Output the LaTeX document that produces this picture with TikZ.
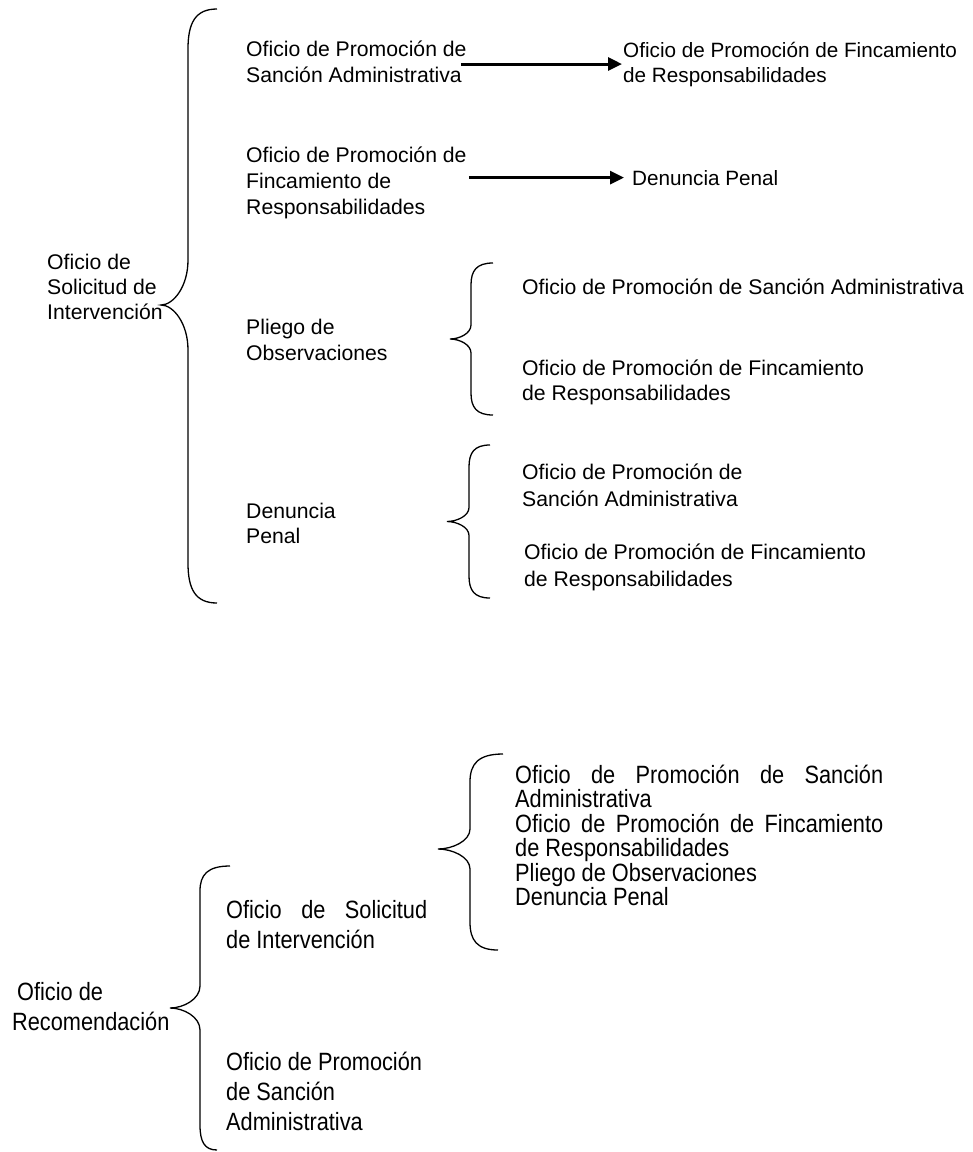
\documentclass[tikz,border=0pt]{standalone}
\usepackage{fontspec}
\setmainfont{Liberation Sans}
\newfontfamily\narrowfont[FakeStretch=0.87]{Liberation Sans}
\usetikzlibrary{arrows.meta}
% brace: #1 x top end, #2 x bottom end, #3 x vertical, #4 x tip, #5 y top, #6 y tip, #7 y bottom, #8 end radius, #9 tip radius
\newcommand\drawbrace[9]{%
  \draw[brc] (#1,#5) .. controls ({#3+0.25*(#1-#3)},#5) and (#3,{#5+0.35*#8}) .. (#3,{#5+#8})
    -- (#3,{#6-#9}) .. controls (#3,{#6-0.4*#9}) and ({#4+0.45*(#3-#4)},#6) .. (#4,#6)
    .. controls ({#4+0.45*(#3-#4)},#6) and (#3,{#6+0.4*#9}) .. (#3,{#6+#9})
    -- (#3,{#7-#8}) .. controls (#3,{#7-0.35*#8}) and ({#3+0.25*(#2-#3)},#7) .. (#2,#7);}
\begin{document}
\lineskiplimit=-100pt
\begin{tikzpicture}[x=1pt,y=-1pt,
  txt/.style={anchor=base west, inner sep=0pt, align=left},
  brc/.style={line width=1.3pt},
  arr/.style={line width=3pt, -{Triangle[length=14pt,width=13pt]}},
  fA/.style={font=\fontsize{21.2}{#1}\selectfont},
  fB/.style={font=\fontsize{20.7}{#1}\selectfont},
  fN/.style={font=\narrowfont\fontsize{25}{#1}\selectfont},
]
\useasboundingbox[fill=white] (0,0) rectangle (973,1152);
% node positions give the baseline of the LAST line of each text

% ---------- top part ----------
\drawbrace{217}{217}{188}{161}{9}{305}{603}{40}{45}
\node[txt, fA=25] (sol) at (47,319) {Oficio de\\Solicitud de\\Intervención};

\node[txt, fA=26.5] (it1) at (246,82.5) {Oficio de Promoción de\\Sanción Administrativa};
\node[txt, fB=25] (tg1) at (623,82) {Oficio de Promoción de Fincamiento\\de Responsabilidades};

\node[txt, fA=26] (it2) at (246,214) {Oficio de Promoción de\\Fincamiento de\\Responsabilidades};
\node[txt, fB=25] (den1) at (632,185) {Denuncia Penal};

\node[txt, fA=26.5] (plg) at (246,360.5) {Pliego de\\Observaciones};
\drawbrace{493}{493}{471}{450}{263}{339}{415}{22}{14}
\node[txt, fA=25] (s1) at (522,294.3) {Oficio de Promoción de Sanción Administrativa};
\node[txt, fA=25] (s2) at (522,400.3) {Oficio de Promoción de Fincamiento\\de Responsabilidades};

\node[txt, fA=25] (dp) at (246,543.5) {Denuncia\\Penal};
\drawbrace{490}{490}{469}{447}{445}{521.5}{598}{22}{14}
\node[txt, fA=26.5] (s3) at (522,506) {Oficio de Promoción de\\Sanción Administrativa};
\node[txt, fA=26.5] (s4) at (524,586) {Oficio de Promoción de Fincamiento\\de Responsabilidades};

\path (it1.east |- tg1.west) coordinate (a1s);
\draw[arr, shorten >=1pt] ([xshift=-6pt]a1s) -- (tg1.west);
\path (it2.east |- den1.west) coordinate (a2s);
\draw[arr, shorten >=8pt] ([xshift=2pt]a2s) -- (den1.west);

% ---------- bottom part ----------
\drawbrace{230}{217}{200}{170}{866}{1008}{1150}{25}{22}
\node[txt, fN=30] (rec) at (12,1030.5) {\hspace*{5pt}Oficio de\\Recomendación};
\node[txt, fN=30] (osi) at (226,948.5) {\makebox[201pt][s]{Oficio de Solicitud}\\de Intervención};
\node[txt, fN=30] (ops) at (226,1130.5) {Oficio de Promoción\\de Sanción\\Administrativa};

\drawbrace{503}{498}{470}{438}{754}{849}{950}{28}{20}
\node[txt, fN=24.4] (lst) at (515,905.5) {\makebox[368pt][s]{Oficio de Promoción de Sanción}\\Administrativa\\\makebox[368pt][s]{Oficio de Promoción de Fincamiento}\\de Responsabilidades\\Pliego de Observaciones\\Denuncia Penal};
\end{tikzpicture}
\end{document}
